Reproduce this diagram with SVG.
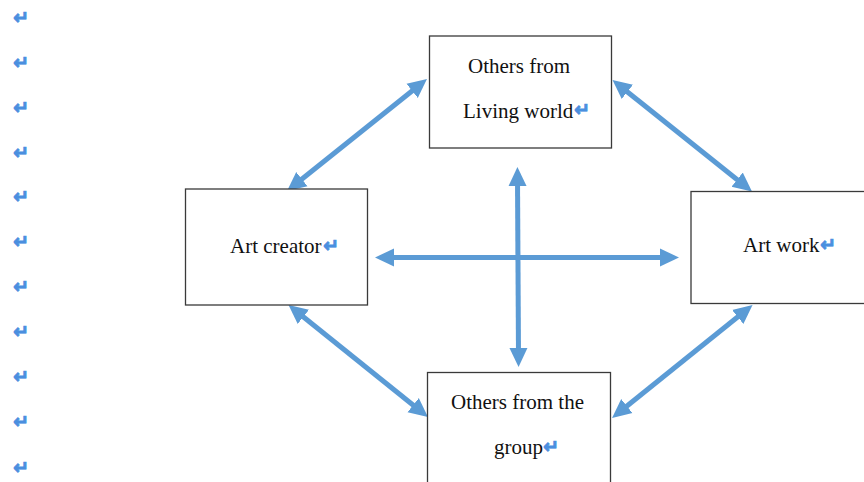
<svg xmlns="http://www.w3.org/2000/svg" width="864" height="482" viewBox="0 0 864 482">
<style>
.box{fill:#ffffff;stroke:#3a3a3a;stroke-width:1.3}
.lbl{font-family:"Liberation Serif","Times New Roman",serif;font-size:21px;fill:#111111}
.ret{font-family:"DejaVu Sans",sans-serif;font-size:19px;fill:#4a8fdf;stroke:#4a8fdf;stroke-width:0.9;font-weight:bold}
.arr{stroke:#5b9bd5;stroke-width:5;fill:none;marker-start:url(#ah);marker-end:url(#ah)}
</style>
<defs>
<marker id="ah" markerUnits="userSpaceOnUse" markerWidth="20" markerHeight="20" viewBox="0 0 20 20" refX="7" refY="10" orient="auto-start-reverse">
<path d="M0,1 L19,10 L0,19 z" fill="#5b9bd5"/>
</marker>
</defs>
<rect width="864" height="482" fill="#ffffff"/>
<g id="margin-marks">
<text class="ret" x="13" y="24">↵</text>
<text class="ret" x="13" y="69">↵</text>
<text class="ret" x="13" y="114">↵</text>
<text class="ret" x="13" y="159">↵</text>
<text class="ret" x="13" y="203">↵</text>
<text class="ret" x="13" y="248">↵</text>
<text class="ret" x="13" y="293">↵</text>
<text class="ret" x="13" y="338">↵</text>
<text class="ret" x="13" y="383">↵</text>
<text class="ret" x="13" y="428">↵</text>
<text class="ret" x="13" y="474">↵</text>
</g>
<g id="connectors">
<path class="arr" d="M387,257.5 L667,257.5"/>
<path class="arr" d="M517.5,179 L518.5,355"/>
<path class="arr" d="M296.4,183.5 L417.6,86.5"/>
<path class="arr" d="M621.9,87.5 L742.6,184"/>
<path class="arr" d="M297.9,312.5 L418.6,409.5"/>
<path class="arr" d="M743.2,312.5 L621.4,410.5"/>
</g>
<g id="node-living-world">
<rect class="box" x="429.5" y="36" width="182" height="112"/>
<text class="lbl" x="468" y="73">Others from</text>
<text class="lbl" x="463" y="118">Living world</text>
<text class="ret" x="574" y="116">↵</text>
</g>
<g id="node-art-creator">
<rect class="box" x="185.5" y="189" width="182" height="116"/>
<text class="lbl" x="230" y="253">Art creator</text>
<text class="ret" x="323" y="252">↵</text>
</g>
<g id="node-art-work">
<rect class="box" x="691" y="191.5" width="180" height="112"/>
<text class="lbl" x="743" y="252">Art work</text>
<text class="ret" x="820" y="251">↵</text>
</g>
<g id="node-group">
<rect class="box" x="427.5" y="372.5" width="183" height="120"/>
<text class="lbl" x="451" y="409">Others from the</text>
<text class="lbl" x="494" y="454">group</text>
<text class="ret" x="543" y="453">↵</text>
</g>
</svg>
